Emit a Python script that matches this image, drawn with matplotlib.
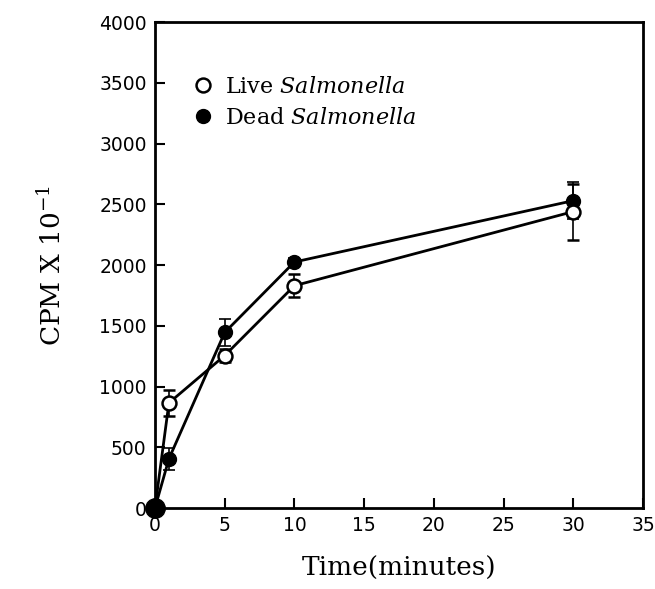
import matplotlib
matplotlib.use("Agg")
import matplotlib.pyplot as plt
from matplotlib.lines import Line2D

plt.rcParams["mathtext.fontset"] = "dejavuserif"

# time points (minutes)
time = [0, 1, 5, 10, 30]
live = [0, 865, 1255, 1830, 2440]
live_err = [0, 105, 50, 95, 230]
dead = [0, 405, 1445, 2025, 2530]
dead_err = [0, 90, 110, 30, 150]

xticks = [0, 5, 10, 15, 20, 25, 30, 35]
yticks = [0, 500, 1000, 1500, 2000, 2500, 3000, 3500, 4000]

fig = plt.figure(figsize=(6.55, 5.89), dpi=100)
ax = fig.add_axes([0.2366, 0.1375, 0.745, 0.825])

ax.errorbar(time, live, yerr=live_err, color="black", lw=2, marker="o",
            mfc="white", mec="black", mew=1.8, ms=10, capsize=4,
            elinewidth=1.2, capthick=1.2, zorder=3, clip_on=False)
ax.errorbar(time, dead, yerr=dead_err, color="black", lw=2, marker="o",
            mfc="black", mec="black", ms=10, capsize=4,
            elinewidth=1.2, capthick=1.2, zorder=2, clip_on=False)
# the point at the origin is drawn larger in the original
ax.plot(time[:1], dead[:1], "o", color="black", ms=14, clip_on=False, zorder=4)

ax.set_xlim(0, 35)
ax.set_ylim(0, 4000)
ax.set_xticks(xticks)
ax.set_yticks(yticks)
ax.tick_params(direction="in", length=7, width=1.5, labelsize=13.5, pad=6)
for s in ax.spines.values():
    s.set_linewidth(2)
for lab in ax.get_xticklabels() + ax.get_yticklabels():
    lab.set_family("DejaVu Sans")

ax.set_xlabel("Time(minutes)", fontsize=19, family="DejaVu Serif", labelpad=15)
ax.set_ylabel("CPM X 10$^{-1}$", fontsize=19, family="DejaVu Serif", labelpad=24)

handles = [
    Line2D([], [], ls="none", marker="o", mfc="white", mec="black", mew=1.8, ms=10),
    Line2D([], [], ls="none", marker="o", mfc="black", mec="black", ms=10),
]
labels = ["Live $\\it{Salmonella}$", "Dead $\\it{Salmonella}$"]
ax.legend(handles, labels, loc="upper left", bbox_to_anchor=(0.035, 0.93),
          frameon=False, handlelength=1, handletextpad=0.5, labelspacing=0.4,
          prop={"family": "DejaVu Serif", "size": 16})

fig.savefig("out.png", dpi=100)
